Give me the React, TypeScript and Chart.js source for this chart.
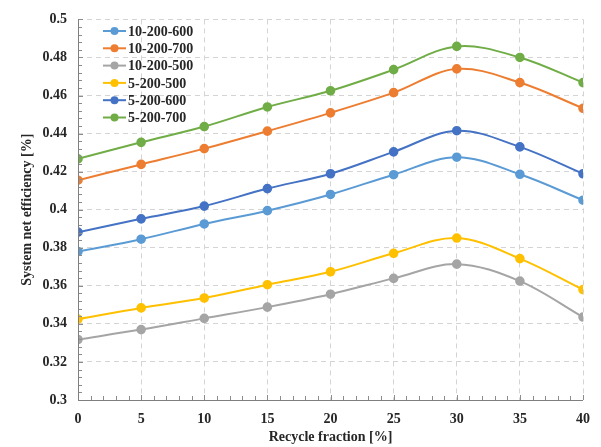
import React, { useEffect, useRef } from 'react';
import { Chart, registerables } from 'chart.js';

Chart.register(...registerables);

const recycleFraction = [0, 5, 10, 15, 20, 25, 30, 35, 40];
const s10_200_600 = [0.378, 0.3845, 0.3925, 0.3995, 0.408, 0.4184, 0.4276, 0.4186, 0.405];
const s10_200_700 = [0.4155, 0.4238, 0.4321, 0.4413, 0.4509, 0.4615, 0.474, 0.4668, 0.4533];
const s10_200_500 = [0.3318, 0.337, 0.3429, 0.3488, 0.3556, 0.3639, 0.3714, 0.3625, 0.3436];
const s5_200_500 = [0.3425, 0.3484, 0.3536, 0.3606, 0.3674, 0.3771, 0.3851, 0.3743, 0.358];
const s5_200_600 = [0.3882, 0.3952, 0.4019, 0.4111, 0.4189, 0.4304, 0.4415, 0.433, 0.4189];
const s5_200_700 = [0.4267, 0.4354, 0.4437, 0.454, 0.4625, 0.4736, 0.4858, 0.48, 0.4668];

const seriesLabels = ['10-200-600', '10-200-700', '10-200-500', '5-200-500', '5-200-600', '5-200-700'];
const seriesValues = [s10_200_600, s10_200_700, s10_200_500, s5_200_500, s5_200_600, s5_200_700];
const seriesColors = ['#5B9BD5', '#ED7D31', '#A5A5A5', '#FFC000', '#4472C4', '#70AD47'];

const FONT = '"Liberation Serif", "Times New Roman", serif';

const minorTicksPlugin = {
  id: 'minorTicks',
  afterDatasetsDraw(chart: any) {
    const ctx = chart.ctx;
    const xs = chart.scales.x;
    const ys = chart.scales.y;
    const area = chart.chartArea;
    ctx.save();
    ctx.strokeStyle = '#8c8c8c';
    ctx.lineWidth = 1;
    ctx.beginPath();
    for (let v = 0; v <= 40; v += 1) {
      const px = Math.round(xs.getPixelForValue(v)) + 0.5;
      const len = v % 5 === 0 ? 5 : 4;
      ctx.moveTo(px, area.bottom);
      ctx.lineTo(px, area.bottom - len);
    }
    for (let i = 0; i <= 50; i++) {
      const v = 0.3 + i * 0.004;
      const py = Math.round(ys.getPixelForValue(v)) + 0.5;
      const len = i % 5 === 0 ? 5 : 4;
      ctx.moveTo(area.left, py);
      ctx.lineTo(area.left + len, py);
    }
    ctx.stroke();
    ctx.strokeStyle = '#7f7f7f';
    ctx.beginPath();
    ctx.moveTo(Math.round(area.left) + 0.5, area.top);
    ctx.lineTo(Math.round(area.left) + 0.5, Math.round(area.bottom) + 0.5);
    ctx.lineTo(area.right, Math.round(area.bottom) + 0.5);
    ctx.stroke();
    ctx.restore();
  },
};

const legendPlugin = {
  id: 'customLegend',
  afterDraw(chart: any) {
    const ctx = chart.ctx;
    ctx.save();
    const x0 = 103;
    const y0 = 31;
    const gap = 17.3;
    chart.data.datasets.forEach((ds: any, i: number) => {
      const y = y0 + i * gap;
      ctx.strokeStyle = ds.borderColor;
      ctx.lineWidth = 2;
      ctx.beginPath();
      ctx.moveTo(x0, y);
      ctx.lineTo(x0 + 23, y);
      ctx.stroke();
      ctx.fillStyle = ds.borderColor;
      ctx.beginPath();
      ctx.arc(x0 + 11.5, y, 4, 0, Math.PI * 2);
      ctx.fill();
      ctx.fillStyle = '#262626';
      ctx.font = `bold 14px ${FONT}`;
      ctx.textBaseline = 'middle';
      ctx.textAlign = 'left';
      ctx.fillText(ds.label, x0 + 25, y + 1);
    });
    ctx.restore();
  },
};

export default function App() {
  const ref = useRef<HTMLCanvasElement | null>(null);
  useEffect(() => {
    if (!ref.current) return;
    const chart = new Chart(ref.current, {
      type: 'line',
      data: {
        datasets: seriesLabels.map((label, i) => ({
          label,
          data: recycleFraction.map((x, j) => ({ x, y: seriesValues[i][j] })),
          borderColor: seriesColors[i],
          backgroundColor: seriesColors[i],
          pointBackgroundColor: seriesColors[i],
          pointBorderColor: seriesColors[i],
          pointRadius: 3.8,
          borderWidth: 2,
          tension: 0.35,
        })),
      },
      plugins: [minorTicksPlugin, legendPlugin],
      options: {
        responsive: false,
        animation: false,
        layout: { padding: { top: 16, right: 13, left: 0, bottom: 0 } },
        plugins: { legend: { display: false }, tooltip: { enabled: false } },
        scales: {
          x: {
            type: 'linear',
            min: 0,
            max: 40,
            ticks: {
              stepSize: 5,
              color: '#262626',
              padding: 11,
              font: { family: FONT, size: 14, weight: 'bold' },
              maxRotation: 0,
            },
            grid: {
              color: (c: any) => (c.tick && c.tick.value === 0 ? 'transparent' : '#d4d4d4'),
              drawTicks: false,
            },
            border: { display: false, dash: [5, 4] },
            title: {
              display: true,
              text: 'Recycle fraction [%]',
              color: '#262626',
              font: { family: FONT, size: 14, weight: 'bold' },
              padding: { top: 0, bottom: 1 },
            },
            afterFit: (s: any) => {
              s.height = 47;
            },
          },
          y: {
            min: 0.3,
            max: 0.5,
            ticks: {
              stepSize: 0.02,
              color: '#262626',
              padding: 11,
              font: { family: FONT, size: 14, weight: 'bold' },
              callback: (v: any) => String(Number(Number(v).toFixed(2))),
            },
            grid: {
              color: (c: any) => (c.tick && Math.abs(c.tick.value - 0.3) < 1e-9 ? 'transparent' : '#d4d4d4'),
              drawTicks: false,
            },
            border: { display: false, dash: [5, 4] },
            title: {
              display: true,
              text: 'System net efficiency [%]',
              color: '#262626',
              font: { family: FONT, size: 14, weight: 'bold' },
              padding: { top: 19, bottom: 0 },
            },
            afterFit: (s: any) => {
              s.width = 78;
            },
          },
        },
      },
    });
    return () => chart.destroy();
  }, []);
  return (
    <div style={{ position: 'absolute', left: 0, top: 0, width: 601, height: 447, background: '#fff' }}>
      <canvas ref={ref} width={601} height={447} style={{ width: 601, height: 447, display: 'block' }} />
    </div>
  );
}
